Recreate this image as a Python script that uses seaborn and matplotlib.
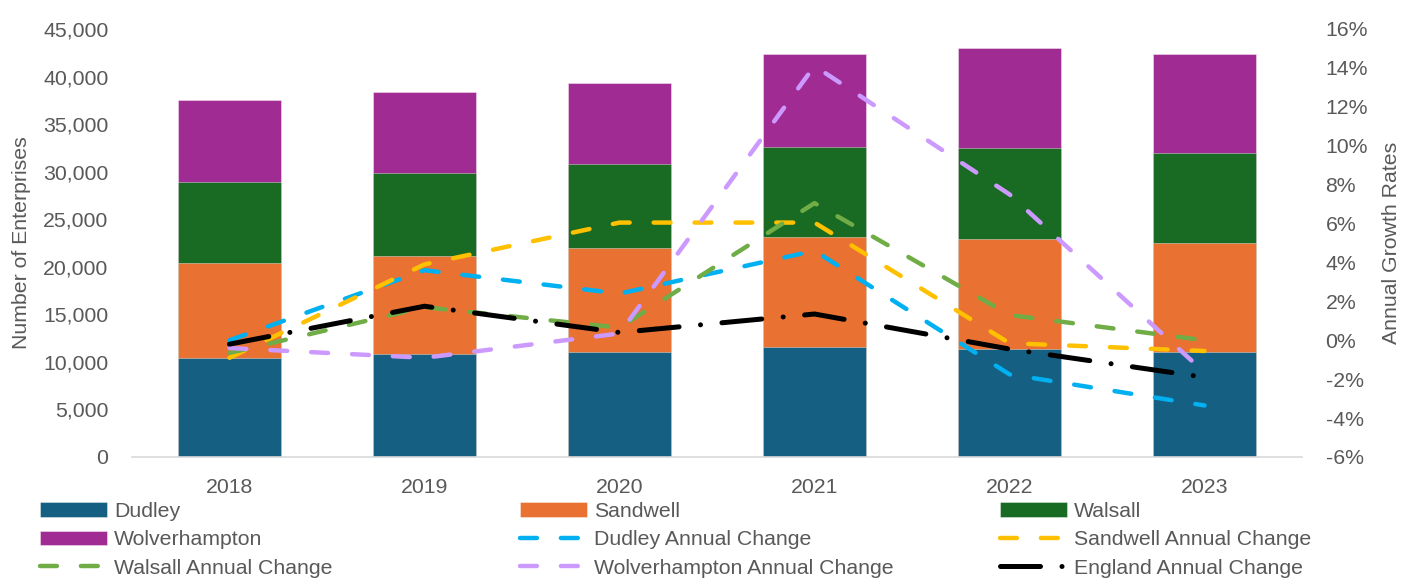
import matplotlib
matplotlib.use("Agg")
import matplotlib.pyplot as plt
import seaborn as sns
import numpy as np
from matplotlib.ticker import FuncFormatter, MultipleLocator

years = ["2018", "2019", "2020", "2021", "2022", "2023"]

# number of enterprises
dudley = [10420, 10810, 11050, 11570, 11400, 11050]
sandwell = [9930, 10310, 10940, 11580, 11500, 11400]
walsall = [8590, 8700, 8780, 9400, 9550, 9540]
wolverhampton = [8590, 8550, 8550, 9790, 10520, 10350]

# annual growth rates (%)
dudley_ac = [0.0, 3.6, 2.4, 4.6, -1.75, -3.35]
sandwell_ac = [-0.9, 3.9, 6.05, 6.05, -0.15, -0.55]
walsall_ac = [-0.65, 1.7, 0.65, 7.05, 1.3, 0.0]
wolverhampton_ac = [-0.4, -0.9, 0.35, 14.1, 7.5, -1.65]
england_ac = [-0.2, 1.75, 0.4, 1.35, -0.45, -1.9]

sns.set_style("white")
plt.rcParams["font.family"] = ["Liberation Sans", "DejaVu Sans"]
grey = "#595959"
fs = 15.3

fig = plt.figure(figsize=(14.02, 5.78), dpi=100)
ax = fig.add_axes([132 / 1402, 121 / 578, 1170 / 1402, 428 / 578])

# stacked bars: draw cumulative totals from tallest down
c1 = np.array(dudley)
c2 = c1 + np.array(sandwell)
c3 = c2 + np.array(walsall)
c4 = c3 + np.array(wolverhampton)
bar_kw = dict(width=0.53, saturation=1, edgecolor=(1, 1, 1, 0.45), linewidth=0.6, ax=ax)
sns.barplot(x=years, y=c4, color="#A02B93", label="Wolverhampton", **bar_kw)
sns.barplot(x=years, y=c3, color="#196B24", label="Walsall", **bar_kw)
sns.barplot(x=years, y=c2, color="#E97132", label="Sandwell", **bar_kw)
sns.barplot(x=years, y=c1, color="#156082", label="Dudley", **bar_kw)

ax.set_ylim(0, 45000)
ax.set_xlim(-0.5, 5.5)
ax.yaxis.set_major_locator(MultipleLocator(5000))
ax.yaxis.set_major_formatter(FuncFormatter(lambda v, p: f"{v:,.0f}"))
ax.tick_params(axis="y", length=0, pad=17, labelsize=fs, labelcolor=grey)
ax.tick_params(axis="x", length=0, pad=15, labelsize=fs, labelcolor=grey)
ax.set_xlabel("")
ax.set_ylabel("Number of Enterprises", fontsize=fs, color=grey)
ax.yaxis.set_label_coords(-0.086, 0.5)
for s in ["top", "left", "right"]:
    ax.spines[s].set_visible(False)
ax.spines["bottom"].set_color("#d9d9d9")
ax.spines["bottom"].set_linewidth(1.2)

# growth rate lines on right axis
ax2 = ax.twinx()
xs = np.arange(len(years))
dash = (0, (3.8, 5.4))
line_kw = dict(linewidth=3.2, dash_capstyle="round", ax=ax2)
sns.lineplot(x=xs, y=np.array(dudley_ac) / 100, color="#00B0F0", linestyle=dash,
             label="Dudley Annual Change", **line_kw)
sns.lineplot(x=xs, y=np.array(sandwell_ac) / 100, color="#FFC000", linestyle=dash,
             label="Sandwell Annual Change", **line_kw)
sns.lineplot(x=xs, y=np.array(walsall_ac) / 100, color="#70AD47", linestyle=dash,
             label="Walsall Annual Change", **line_kw)
sns.lineplot(x=xs, y=np.array(wolverhampton_ac) / 100, color="#CC99FF", linestyle=dash,
             label="Wolverhampton Annual Change", **line_kw)
sns.lineplot(x=xs, y=np.array(england_ac) / 100, color="black", linestyle=(0, (8, 4.3, 0.01, 4.3)),
             label="England Annual Change", linewidth=3.6, dash_capstyle="round", ax=ax2)

ax2.set_ylim(-0.06, 0.16)
ax2.set_xlim(-0.5, 5.5)
ax2.yaxis.set_major_locator(MultipleLocator(0.02))
ax2.yaxis.set_major_formatter(FuncFormatter(lambda v, p: f"{round(v * 100):d}%"))
ax2.tick_params(axis="y", length=0, pad=17, labelsize=fs, labelcolor=grey)
ax2.set_ylabel("Annual Growth Rates", fontsize=fs, color=grey)
ax2.yaxis.set_label_coords(1.0684, 0.5)
for s in ax2.spines.values():
    s.set_visible(False)
if ax2.get_legend():
    ax2.get_legend().remove()
if ax.get_legend():
    ax.get_legend().remove()

h1, l1 = ax.get_legend_handles_labels()
h2, l2 = ax2.get_legend_handles_labels()
hd = dict(zip(l1 + l2, h1 + h2))

columns = [
    (40, ["Dudley", "Wolverhampton", "Walsall Annual Change"]),
    (520, ["Sandwell", "Dudley Annual Change", "Wolverhampton Annual Change"]),
    (1000, ["Walsall", "Sandwell Annual Change", "England Annual Change"]),
]
for x0, labs in columns:
    fig.legend([hd[l] for l in labs], labs, loc="upper left",
               bbox_to_anchor=(x0 / 1402, 1 - 502 / 578), frameon=False,
               fontsize=fs, labelcolor=grey, borderpad=0, borderaxespad=0,
               handlelength=3.15, handleheight=0.65, handletextpad=0.35,
               labelspacing=0.44)

fig.savefig("out.png", dpi=100)
